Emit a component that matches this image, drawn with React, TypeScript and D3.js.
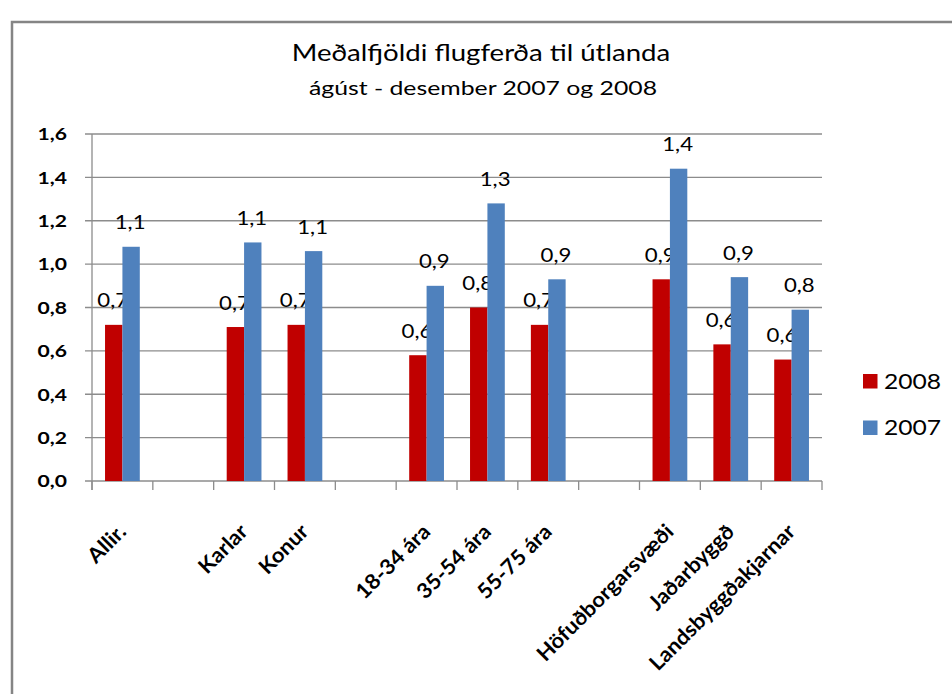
import * as d3 from "d3";

const categories = [
  "Allir.",
  "",
  "Karlar",
  "Konur",
  "",
  "18-34 ára",
  "35-54 ára",
  "55-75 ára",
  "",
  "Höfuðborgarsvæði",
  "Jaðarbyggð",
  "Landsbyggðakjarnar",
];
const series = ["2008", "2007"];
const values2008 = [0.72, null, 0.71, 0.72, null, 0.58, 0.8, 0.72, null, 0.93, 0.63, 0.56];
const values2007 = [1.08, null, 1.1, 1.06, null, 0.9, 1.28, 0.93, null, 1.44, 0.94, 0.79];
const yTicks = [0, 0.2, 0.4, 0.6, 0.8, 1.0, 1.2, 1.4, 1.6];

const colors: Record<string, string> = { "2008": "#C00000", "2007": "#4F81BD" };
const font = "Lato, 'Open Sans', sans-serif";
const SX = 1.2; // the source text is a bit stretched sideways
const comma = (v: number) => d3.format(".1f")(v).replace(".", ",");

const App = () => {
  const width = 952;
  const height = 694;
  const plot = { left: 92, right: 822, top: 134, bottom: 481 };

  const x = d3
    .scaleBand<number>()
    .domain(d3.range(categories.length))
    .range([plot.left, plot.right])
    .paddingInner(0)
    .paddingOuter(0);
  const x1 = d3
    .scaleBand<string>()
    .domain(series)
    .range([0, x.bandwidth()])
    .paddingInner(0)
    .paddingOuter(0.75);
  const y = d3.scaleLinear().domain([0, 1.6]).range([plot.bottom, plot.top]);

  const rows = categories.map((c, i) => ({
    c,
    i,
    vals: [
      { s: "2008", v: values2008[i] },
      { s: "2007", v: values2007[i] },
    ],
  }));

  const boundaries = d3.range(categories.length + 1).map((i) => plot.left + i * x.step());

  return (
    <svg
      width={width}
      height={height}
      style={{ position: "absolute", left: 0, top: 0, background: "#fff" }}
      fontFamily={font}
    >
      <rect x={12} y={22} width={1000} height={1000} fill="#fff" stroke="#858585" strokeWidth={2.5} />
      <text transform={`translate(481,61) scale(${SX},1)`} textAnchor="middle" fontSize={23} fill="#000">
        Meðalfjöldi flugferða til útlanda
      </text>
      <text transform={`translate(483,95) scale(1.24,1)`} textAnchor="middle" fontSize={20} fill="#000">
        ágúst - desember 2007 og 2008
      </text>

      {/* gridlines + y axis */}
      {yTicks.map((t) => (
        <g key={t}>
          <line x1={plot.left - 7} x2={plot.right} y1={y(t)} y2={y(t)} stroke="#8c8c8c" strokeWidth={1.3} />
          <text
            transform={`translate(67,${y(t)}) scale(${SX},1)`}
            dy="0.36em"
            textAnchor="end"
            fontSize={17.6}
            fontWeight={700}
            fill="#000"
          >
            {comma(t)}
          </text>
        </g>
      ))}
      <line x1={plot.left} x2={plot.left} y1={plot.top} y2={plot.bottom + 9} stroke="#8c8c8c" strokeWidth={1.3} />
      {boundaries.map((bx, i) => (
        <line key={i} x1={bx} x2={bx} y1={plot.bottom} y2={plot.bottom + 9} stroke="#8c8c8c" strokeWidth={1.3} />
      ))}

      {/* bars */}
      {rows.map((r) => (
        <g key={r.i} transform={`translate(${x(r.i)},0)`}>
          {r.vals.map((d) =>
            d.v == null ? null : (
              <g key={d.s}>
                <rect
                  x={x1(d.s)}
                  y={y(d.v)}
                  width={x1.bandwidth()}
                  height={plot.bottom - y(d.v)}
                  fill={colors[d.s]}
                />
                <text
                  transform={`translate(${x1(d.s)! + x1.bandwidth() / 2 - 1},${y(d.v) - 17.5}) scale(${SX},1)`}
                  textAnchor="middle"
                  fontSize={18.5}
                  fill="#000"
                >
                  {comma(d.v)}
                </text>
              </g>
            )
          )}
        </g>
      ))}

      {/* category labels */}
      {rows.map((r) =>
        r.c ? (
          <text
            key={r.i}
            transform={`translate(${x(r.i)! + x.bandwidth() / 2 + 5},${plot.bottom + 52}) rotate(-45) scale(1.05,1)`}
            textAnchor="end"
            fontSize={21}
            fontWeight={700}
            fill="#000"
          >
            {r.c}
          </text>
        ) : null
      )}

      {/* legend */}
      {series.map((s, i) => (
        <g key={s} transform={`translate(863,${374 + i * 46.5})`}>
          <rect width={14.5} height={14.5} fill={colors[s]} />
          <text transform={`translate(21,14.5) scale(${SX},1)`} fontSize={20.5} fill="#000">
            {s}
          </text>
        </g>
      ))}
    </svg>
  );
};

export default App;
